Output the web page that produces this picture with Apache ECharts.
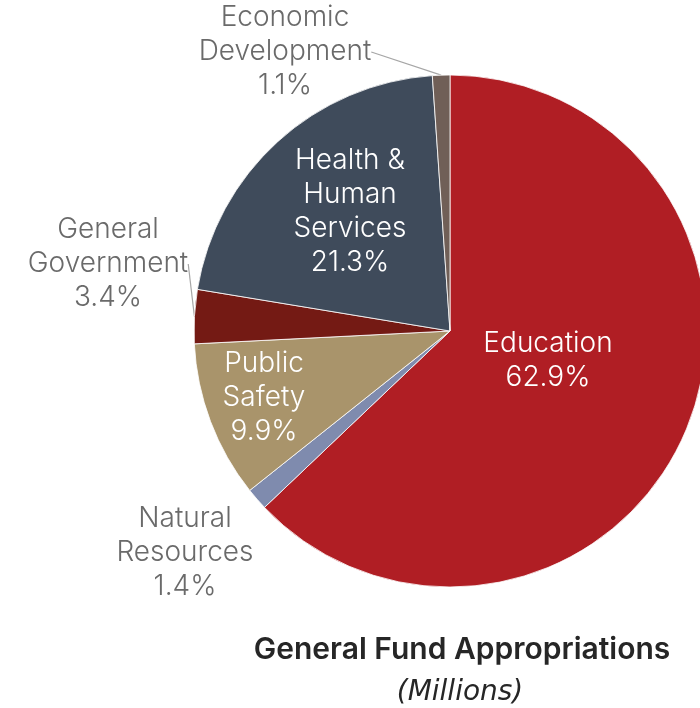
<!DOCTYPE html>
<html><head><meta charset="utf-8">
<script src="https://cdn.jsdelivr.net/npm/echarts@6/dist/echarts.min.js"></script>
<style>html,body{margin:0;padding:0;background:#fff}#c{width:700px;height:708px}</style>
</head><body><div id="c"></div>
<script>
const categories = ['Education', 'Natural\nResources', 'Public\nSafety', 'General\nGovernment', 'Health &\nHuman\nServices', 'Economic\nDevelopment'];
const shares = [62.9, 1.4, 9.9, 3.4, 21.3, 1.1];
const sliceColors = ['#B01E24', '#7F8BAE', '#A9946B', '#741A14', '#3F4B5B', '#705F57'];
const insideLabel = [true, false, true, false, true, false];
const labelPos = [[548, 361], [185, 553], [264, 398], [108, 264], [350, 212], [285, 52]];

const chart = echarts.init(document.getElementById('c'), null, {renderer: 'canvas'});
const FONT = 'DejaVu Sans';
const LFONT = 'Inter';
chart.setOption({
  animation: false,
  title: [{
    text: 'General Fund Appropriations',
    left: 457, top: 630, textAlign: 'center',
    textStyle: {fontFamily: LFONT, fontWeight: 600, fontSize: 30, color: '#262626'}
  }, {
    text: '(Millions)',
    left: 455, top: 674, textAlign: 'center',
    textStyle: {fontFamily: FONT, fontStyle: 'italic', fontWeight: 'normal', fontSize: 28, color: '#262626'}
  }],
  series: [{
    type: 'pie',
    center: [450, 331],
    radius: [0, 256],
    startAngle: 90,
    clockwise: true,
    avoidLabelOverlap: false,
    itemStyle: {borderColor: '#ffffff', borderWidth: 0.8},
    label: {fontFamily: LFONT, fontWeight: 300, fontSize: 28, lineHeight: 34, color: '#6A6A6A', formatter: p => p.name + '\n' + p.value.toFixed(1) + '%'},
    labelLine: {show: true, lineStyle: {color: '#A6A6A6', width: 1.2}, length: 10, length2: 0},
    labelLayout: function (params) {
      const pos = labelPos[params.dataIndex];
      return {x: pos[0], y: pos[1], align: 'center', verticalAlign: 'middle'};
    },
    data: categories.map((name, i) => ({
      name: name,
      value: shares[i],
      itemStyle: {color: sliceColors[i]},
      label: insideLabel[i] ? {position: 'inside', color: '#ffffff'} : {position: 'outside'},
      labelLine: {show: !insideLabel[i] && i !== 1}
    }))
  }]
});
</script></body></html>
